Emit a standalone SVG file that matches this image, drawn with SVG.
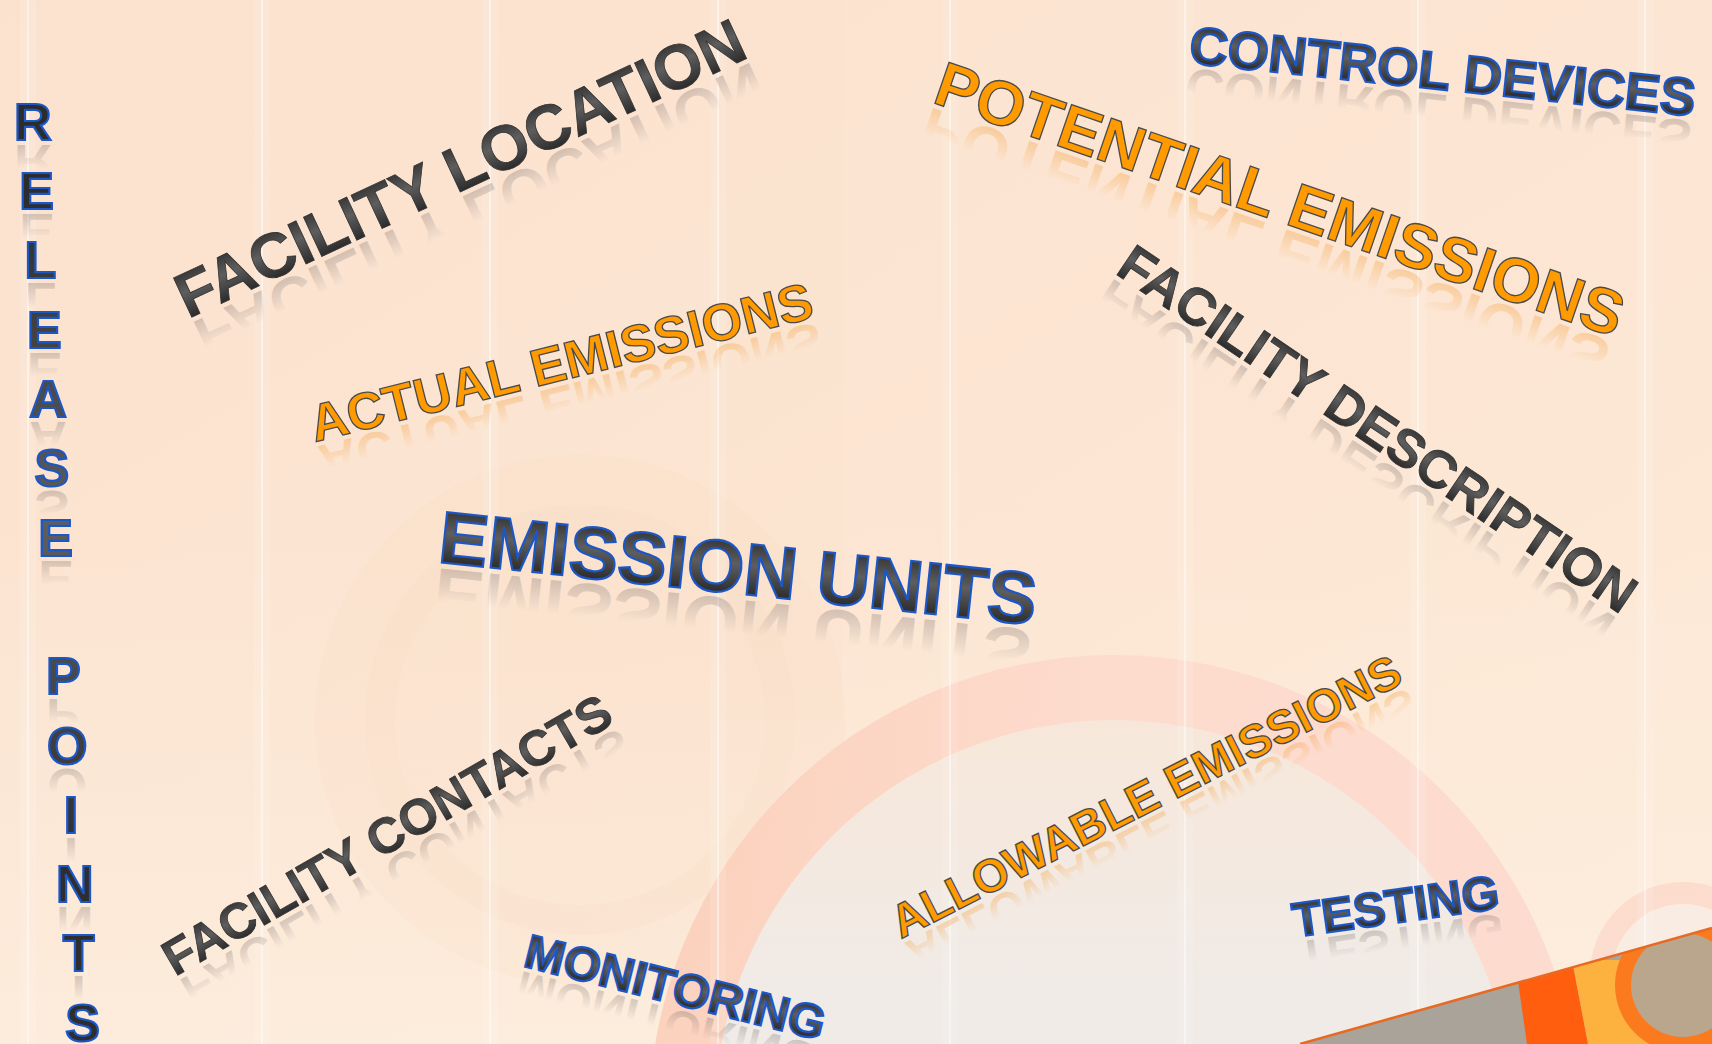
<svg xmlns="http://www.w3.org/2000/svg" width="1712" height="1044" viewBox="0 0 1712 1044">
<defs>
<linearGradient id="bg" x1="0" y1="0" x2="1" y2="1">
<stop offset="0" stop-color="#fbe2cf"/>
<stop offset="0.5" stop-color="#fce5d2"/>
<stop offset="1" stop-color="#fdebd9"/>
</linearGradient>
<linearGradient id="bgBottom" x1="0" y1="0" x2="0" y2="1">
<stop offset="0.5" stop-color="#fdecdc" stop-opacity="0"/>
<stop offset="1" stop-color="#fdefe0" stop-opacity="0.7"/>
</linearGradient>
<linearGradient id="inner" x1="0" y1="0" x2="0" y2="1">
<stop offset="0" stop-color="#f7e7da"/>
<stop offset="0.35" stop-color="#f0ebe7"/>
<stop offset="1" stop-color="#efebe8"/>
</linearGradient>
<linearGradient id="ringG" x1="0" y1="0" x2="1" y2="0">
<stop offset="0" stop-color="#fbcdb8"/>
<stop offset="0.5" stop-color="#fdd9cc"/>
<stop offset="1" stop-color="#fdd8cd"/>
</linearGradient>
<linearGradient id="metal" x1="0" y1="0" x2="0" y2="1">
<stop offset="0.1" stop-color="#2c2c2c"/>
<stop offset="0.45" stop-color="#5e5e5e"/>
<stop offset="0.8" stop-color="#2e2e2e"/>
</linearGradient>
<linearGradient id="rDark" x1="0" y1="0" x2="0" y2="1">
<stop offset="0.4" stop-color="#6a6060" stop-opacity="0"/>
<stop offset="0.85" stop-color="#6a6060" stop-opacity="0.3"/>
</linearGradient>
<linearGradient id="rOrange" x1="0" y1="0" x2="0" y2="1">
<stop offset="0.4" stop-color="#f29a30" stop-opacity="0"/>
<stop offset="0.85" stop-color="#f29a30" stop-opacity="0.35"/>
</linearGradient>
<clipPath id="below">
<polygon points="1300,1044 1712,928 1712,1044"/>
</clipPath>
<clipPath id="above">
<polygon points="0,0 1712,0 1712,928 1300,1044 0,1044"/>
</clipPath>
<style>
.w { font-family: 'Liberation Sans', Arial, sans-serif; font-weight: 700; }
.dark { fill: url(#metal); stroke: #333333; stroke-width: 0.8; }
.blue { fill: url(#metal); stroke: #1c57c8; stroke-width: 2.2; }
.orange { fill: #ff9a00; stroke: #4a4a4a; stroke-width: 1.3; }
.rd { fill: url(#rDark); }
.ro { fill: url(#rOrange); }
.stripe { fill: #ffffff; opacity: 0.45; }
.glow { fill: #ffffff; opacity: 0.12; }
.rp { font-size: 52px; text-anchor: middle; }
</style>
</defs>

<!-- background -->
<rect width="1712" height="1044" fill="url(#bg)"/>
<rect width="1712" height="1044" fill="url(#bgBottom)"/>
<circle cx="580" cy="720" r="265" fill="#f5d5bd" opacity="0.15"/>
<circle cx="580" cy="720" r="200" fill="none" stroke="#f3cdb2" stroke-width="30" opacity="0.08"/>
<rect x="720" y="0" width="122" height="720" fill="#f6dcc6" opacity="0.15"/>

<!-- big ring -->
<g clip-path="url(#above)">
<circle cx="1114" cy="1120" r="465" fill="url(#ringG)" opacity="0.85"/>
<circle cx="1114" cy="1120" r="400" fill="url(#inner)"/>
<circle cx="1683" cy="975" r="82" fill="none" stroke="#fbd6c8" stroke-width="22" opacity="0.7"/>
<circle cx="1683" cy="975" r="70" fill="#f6ece6" opacity="0.6"/>
</g>

<!-- stripes -->
<g>
<rect class="glow" x="20" y="0" width="16" height="1044"/>
<rect class="stripe" x="27" y="0" width="2" height="1044"/>
<rect class="glow" x="254" y="0" width="16" height="1044"/>
<rect class="stripe" x="261" y="0" width="2" height="1044"/>
<rect class="glow" x="482" y="0" width="16" height="1044"/>
<rect class="stripe" x="489" y="0" width="2" height="1044"/>
<rect class="glow" x="710" y="0" width="16" height="1044"/>
<rect class="stripe" x="717" y="0" width="2" height="1044"/>
<rect class="glow" x="942" y="0" width="16" height="1044"/>
<rect class="stripe" x="949" y="0" width="2" height="1044"/>
<rect class="glow" x="1177" y="0" width="16" height="1044"/>
<rect class="stripe" x="1184" y="0" width="2" height="1044"/>
<rect class="glow" x="1410" y="0" width="16" height="1044"/>
<rect class="stripe" x="1417" y="0" width="2" height="1044"/>
<rect class="glow" x="1637" y="0" width="16" height="1044"/>
<rect class="stripe" x="1644" y="0" width="2" height="1044"/>
</g>

<!-- bottom-right band -->
<g clip-path="url(#below)">
<rect x="1290" y="900" width="430" height="150" fill="#a9a39a"/>
<polygon points="1515,960 1572,960 1588,1044 1527,1044" fill="#ff5e0e"/>
<polygon points="1572,960 1640,960 1660,1044 1588,1044" fill="#fdb240"/>
<circle cx="1683" cy="985" r="68" fill="#fb7a1e"/>
<circle cx="1683" cy="985" r="52" fill="#b9a68d"/>
</g>
<line x1="1300" y1="1044" x2="1712" y2="928" stroke="#e86a22" stroke-width="2.5"/>

<!-- words -->
<g id="release-points" class="w">
<text class="rd rp" transform="scale(1,-1)" x="32.8" y="-144.8">R</text>
<text class="rd rp" transform="scale(1,-1)" x="36.6" y="-214.1">E</text>
<text class="rd rp" transform="scale(1,-1)" x="40.4" y="-283.4">L</text>
<text class="rd rp" transform="scale(1,-1)" x="44.3" y="-352.7">E</text>
<text class="rd rp" transform="scale(1,-1)" x="48.1" y="-422">A</text>
<text class="rd rp" transform="scale(1,-1)" x="51.9" y="-491.3">S</text>
<text class="rd rp" transform="scale(1,-1)" x="55.7" y="-560.6">E</text>
<text class="rd rp" transform="scale(1,-1)" x="63.4" y="-699.2">P</text>
<text class="rd rp" transform="scale(1,-1)" x="67.2" y="-768.5">O</text>
<text class="rd rp" transform="scale(1,-1)" x="71" y="-837.8">I</text>
<text class="rd rp" transform="scale(1,-1)" x="74.8" y="-907.1">N</text>
<text class="rd rp" transform="scale(1,-1)" x="78.6" y="-976.4">T</text>
<text class="blue rp"><tspan x="32.8" y="139.8">R</tspan><tspan x="36.6" y="209.1">E</tspan><tspan x="40.4" y="278.4">L</tspan><tspan x="44.3" y="347.7">E</tspan><tspan x="48.1" y="417">A</tspan><tspan x="51.9" y="486.3">S</tspan><tspan x="55.7" y="555.6">E</tspan><tspan x="63.4" y="694.2">P</tspan><tspan x="67.2" y="763.5">O</tspan><tspan x="71" y="832.8">I</tspan><tspan x="74.8" y="902.1">N</tspan><tspan x="78.6" y="971.4">T</tspan><tspan x="82.5" y="1040.7">S</tspan></text>
</g>

<g id="facility-location" class="w" transform="translate(188,319) rotate(-25)" font-size="63">
<text class="rd" transform="translate(0,5) scale(1,-1)">FACILITY LOCATION</text>
<text class="dark">FACILITY LOCATION</text>
</g>

<g id="actual-emissions" class="w" transform="translate(315,442) rotate(-14)" font-size="52">
<text class="ro" transform="translate(0,5) scale(1,-1)">ACTUAL EMISSIONS</text>
<text class="orange">ACTUAL EMISSIONS</text>
</g>

<g id="emission-units" class="w" transform="translate(437,562) rotate(6)" font-size="73.5">
<text class="rd" transform="translate(0,6) scale(1,-1)">EMISSION UNITS</text>
<text class="blue">EMISSION UNITS</text>
</g>

<g id="control-devices" class="w" transform="translate(1188,63) rotate(6)" font-size="53">
<text class="rd" transform="translate(0,5) scale(1,-1)">CONTROL DEVICES</text>
<text class="blue">CONTROL DEVICES</text>
</g>

<g id="potential-emissions" class="w" transform="translate(931,102) rotate(19)" font-size="63">
<text class="ro" transform="translate(0,5) scale(1,-1)">POTENTIAL EMISSIONS</text>
<text class="orange">POTENTIAL EMISSIONS</text>
</g>

<g id="facility-description" class="w" transform="translate(1114,273) rotate(34)" font-size="53">
<text class="rd" transform="translate(0,5) scale(1,-1)">FACILITY DESCRIPTION</text>
<text class="dark">FACILITY DESCRIPTION</text>
</g>

<g id="facility-contacts" class="w" transform="translate(175,977) rotate(-30)" font-size="50">
<text class="rd" transform="translate(0,5) scale(1,-1)">FACILITY CONTACTS</text>
<text class="dark">FACILITY CONTACTS</text>
</g>

<g id="allowable-emissions" class="w" transform="translate(901,939) rotate(-27)" font-size="46.5">
<text class="ro" transform="translate(0,5) scale(1,-1)">ALLOWABLE EMISSIONS</text>
<text class="orange">ALLOWABLE EMISSIONS</text>
</g>

<g id="monitoring" class="w" transform="translate(522,966) rotate(14)" font-size="47.5">
<text class="rd" transform="translate(0,5) scale(1,-1)">MONITORING</text>
<text class="blue">MONITORING</text>
</g>

<g id="testing" class="w" transform="translate(1295,937) rotate(-8)" font-size="48">
<text class="rd" transform="translate(0,5) scale(1,-1)">TESTING</text>
<text class="blue">TESTING</text>
</g>
</svg>
